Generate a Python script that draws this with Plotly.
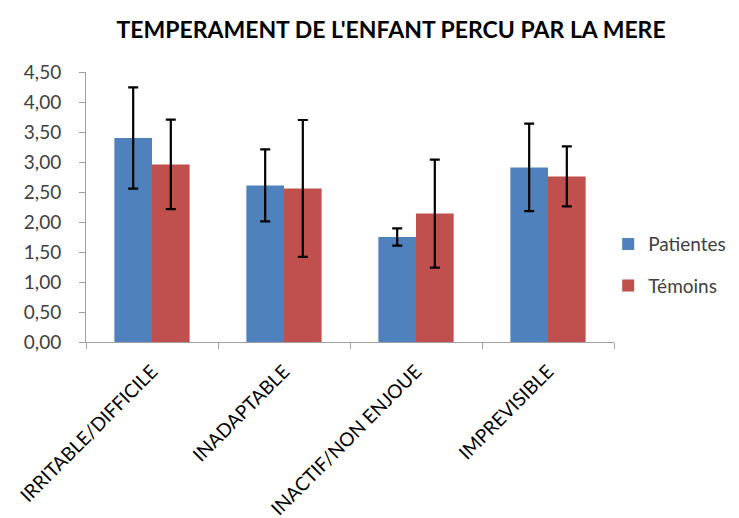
import plotly.graph_objects as go

categories = ["IRRITABLE/DIFFICILE", "INADAPTABLE", "INACTIF/NON ENJOUE", "IMPREVISIBLE"]
patientes = [3.40, 2.61, 1.75, 2.91]
patientes_err = [0.845, 0.60, 0.145, 0.73]
temoins = [2.96, 2.56, 2.14, 2.76]
temoins_err = [0.745, 1.14, 0.90, 0.50]
y_ticks = [0, 0.5, 1, 1.5, 2, 2.5, 3, 3.5, 4, 4.5]
y_tick_labels = ["0,00", "0,50", "1,00", "1,50", "2,00", "2,50", "3,00", "3,50", "4,00", "4,50"]

FONT = "Lato, Carlito, 'Open Sans', sans-serif"

fig = go.Figure()
fig.add_trace(go.Bar(
    x=categories, y=patientes, name="Patientes", legendgroup="a",
    marker=dict(color="#4F81BD", line=dict(width=0)),
    error_y=dict(type="data", array=patientes_err, color="black", thickness=2.2, width=5),
))
fig.add_trace(go.Bar(
    x=categories, y=temoins, name="Témoins", legendgroup="b",
    marker=dict(color="#C0504D", line=dict(width=0)),
    error_y=dict(type="data", array=temoins_err, color="black", thickness=2.2, width=5),
))

fig.update_layout(
    width=731, height=510,
    margin=dict(l=78, r=125, t=64, b=176, autoexpand=False),
    paper_bgcolor="white", plot_bgcolor="white",
    barmode="group", bargap=0.43, bargroupgap=0,
    font=dict(family=FONT, color="#404040", size=16),
    title=dict(text="<b>TEMPERAMENT DE L'ENFANT PERCU PAR LA MERE</b>",
               x=0.524, xanchor="center", y=0.957, yanchor="middle",
               font=dict(size=23, color="black", family=FONT)),
    legend=dict(x=0.989, y=0.285, xanchor="left", yanchor="middle",
                font=dict(size=19, color="#404040"), tracegroupgap=14,
                bgcolor="rgba(0,0,0,0)"),
    xaxis=dict(type="category", tickson="boundaries", ticks="outside", ticklen=6,
               tickcolor="#A0A0A0", showline=True, linecolor="#A0A0A0", linewidth=1,
               tickangle=-45, tickfont=dict(size=19, color="black"), showgrid=False,
               ticklabelstandoff=10, automargin=False),
    yaxis=dict(range=[0, 4.5], tickvals=y_ticks, ticktext=y_tick_labels,
               ticks="outside", ticklen=6, tickcolor="#A0A0A0",
               showline=True, linecolor="#A0A0A0", linewidth=1, automargin=False,
               ticklabelstandoff=14,
               showgrid=False, zeroline=False, tickfont=dict(size=19, color="#404040")),
)

fig.write_html("out.html")
